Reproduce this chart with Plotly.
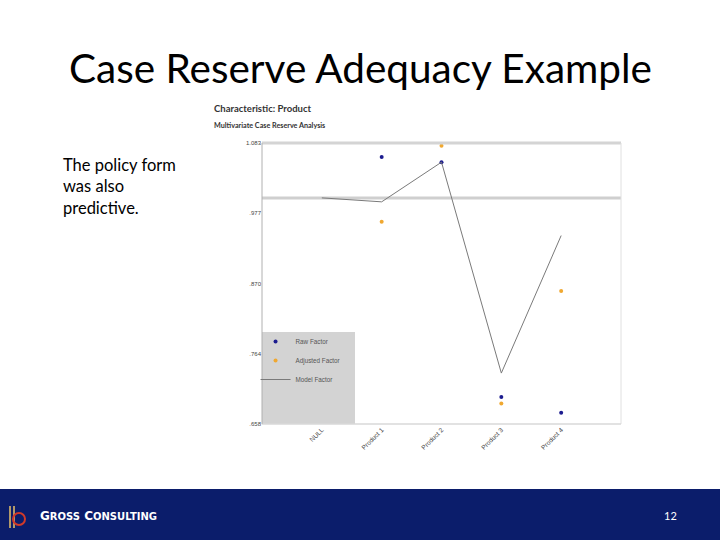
import plotly.graph_objects as go

categories = ["NULL", "Product 1", "Product 2", "Product 3", "Product 4"]
raw_factor = [None, 1.062, 1.054, 0.699, 0.675]
adjusted_factor = [None, 0.964, 1.079, 0.689, 0.859]
model_factor = [1.0, 0.994, 1.054, 0.735, 0.943]
base_factor = 1.0
y_ticks = [1.083, 0.977, 0.870, 0.764, 0.658]
y_tick_labels = ["1.083", ".977", ".870", ".764", ".658"]

# plot area in pixels
L, R, T, B = 262, 621, 143, 424
W, H = 720, 540
pw, ph = R - L, B - T


def px(x):
    return (x - L) / pw


def py(y):
    return (B - y) / ph


fig = go.Figure()
fig.add_trace(go.Scatter(x=categories, y=raw_factor, mode="markers", name="Raw Factor",
                         marker=dict(color="#1c1c8f", size=4), cliponaxis=False))
fig.add_trace(go.Scatter(x=categories, y=adjusted_factor, mode="markers", name="Adjusted Factor",
                         marker=dict(color="#f0a830", size=4), cliponaxis=False))
fig.add_trace(go.Scatter(x=categories, y=model_factor, mode="lines", name="Model Factor",
                         line=dict(color="#7a7a7a", width=1)))

shapes = [
    # legend background
    dict(type="rect", xref="paper", yref="paper", x0=0, x1=px(355), y0=0, y1=py(332),
         fillcolor="#d3d3d3", line=dict(width=0), layer="below"),
    # base reference line
    dict(type="line", xref="paper", yref="y", x0=0, x1=1, y0=base_factor, y1=base_factor,
         line=dict(color="#cfcfcf", width=3), layer="below"),
    # borders
    dict(type="line", xref="paper", yref="paper", x0=0, x1=1, y0=1, y1=1,
         line=dict(color="#d4d4d4", width=3)),
    dict(type="line", xref="paper", yref="paper", x0=1, x1=1, y0=0, y1=1,
         line=dict(color="#e0e0e0", width=1)),
    dict(type="line", xref="paper", yref="paper", x0=0, x1=1, y0=0, y1=0,
         line=dict(color="#d8d8d8", width=1.5)),
    dict(type="line", xref="paper", yref="paper", x0=0, x1=0, y0=0, y1=1,
         line=dict(color="#b0b0b0", width=1)),
    # footer band
    dict(type="rect", xref="paper", yref="paper", x0=px(-5), x1=px(725), y0=py(489), y1=py(545),
         fillcolor="#0b1d6b", line=dict(width=0), layer="below"),
    # logo
    dict(type="line", xref="paper", yref="paper", x0=px(10), x1=px(10), y0=py(506), y1=py(528),
         line=dict(color="#e8c26a", width=1.5)),
    dict(type="line", xref="paper", yref="paper", x0=px(14), x1=px(14), y0=py(506), y1=py(528),
         line=dict(color="#e8c26a", width=1.5)),
    dict(type="circle", xref="paper", yref="paper", x0=px(13), x1=px(25), y0=py(513), y1=py(525),
         line=dict(color="#d03a2a", width=2)),
]

annotations = [
    dict(text="Case Reserve Adequacy Example", x=px(360), y=py(67), xref="paper", yref="paper",
         showarrow=False, xanchor="center", yanchor="middle",
         font=dict(family="Lato", size=40.5, color="#000000")),
    dict(text="The policy form<br>was also<br>predictive.", x=px(61), y=py(153), xref="paper", yref="paper",
         showarrow=False, xanchor="left", yanchor="top", align="left",
         font=dict(family="Lato", size=16.5, color="#000000")),
    dict(text="<b>Characteristic: Product</b>", x=px(212), y=py(108), xref="paper", yref="paper",
         showarrow=False, xanchor="left", yanchor="middle",
         font=dict(family="Lato", size=9.5, color="#333333")),
    dict(text="<b>Multivariate Case Reserve Analysis</b>", x=px(212), y=py(125), xref="paper", yref="paper",
         showarrow=False, xanchor="left", yanchor="middle",
         font=dict(family="Lato", size=7.2, color="#333333")),
    dict(text="<b>G<span style='font-size:10px'>ROSS</span> C<span style='font-size:10px'>ONSULTING</span></b>",
         x=px(38), y=py(516), xref="paper", yref="paper",
         showarrow=False, xanchor="left", yanchor="middle",
         font=dict(family="DejaVu Sans", size=12, color="#ffffff")),
    dict(text="12", x=px(670), y=py(515), xref="paper", yref="paper",
         showarrow=False, xanchor="center", yanchor="middle",
         font=dict(family="Lato", size=11, color="#ffffff")),
]

fig.update_layout(
    width=W, height=H,
    margin=dict(l=L, r=W - R, t=T, b=H - B, pad=0),
    paper_bgcolor="#ffffff", plot_bgcolor="#ffffff",
    showlegend=True,
    legend=dict(x=-0.018, y=py(327), xanchor="left", yanchor="top", bgcolor="rgba(0,0,0,0)",
                font=dict(family="Liberation Sans", size=6.3, color="#555555"),
                itemwidth=30, tracegroupgap=0),
    shapes=shapes,
    annotations=annotations,
    xaxis=dict(range=[-1, 5], showgrid=False, zeroline=False, showline=False,
               tickangle=-45, ticks="", tickfont=dict(family="Liberation Sans", size=6.5, color="#444444")),
    yaxis=dict(range=[0.658, 1.083], showgrid=False, zeroline=False, showline=False,
               tickvals=y_ticks, ticktext=y_tick_labels, ticks="",
               tickfont=dict(family="Liberation Sans", size=6, color="#444444")),
)

fig.write_html("out.html", config={"displayModeBar": False},
               post_script="document.body.style.margin='0';document.body.style.overflow='hidden';")
